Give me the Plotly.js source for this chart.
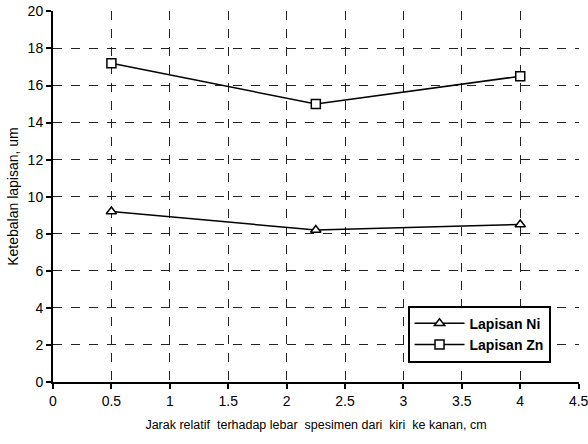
<!DOCTYPE html>
<html><head><meta charset="utf-8">
<script src="https://cdn.plot.ly/plotly-3.0.1.min.js"></script>
<style>body{margin:0;padding:0;background:#fff}#chart{width:588px;height:444px}</style>
</head><body><div id="chart"></div>
<script>
const positions = [0.5, 2.25, 4];
const lapisanNi = [9.2, 8.2, 8.5];
const lapisanZn = [17.2, 15.0, 16.5];
const xTicks = [0, 0.5, 1, 1.5, 2, 2.5, 3, 3.5, 4, 4.5];
const xTickLabels = ['0', '0.5', '1', '1.5', '2', '2.5', '3', '3.5', '4', '4.5'];
const yTicks = [0, 2, 4, 6, 8, 10, 12, 14, 16, 18, 20];

const traces = [
  {x: positions, y: lapisanNi, name: 'Lapisan Ni', mode: 'lines+markers',
   line: {color: '#000', width: 1.5},
   marker: {symbol: 'triangle-up', size: 9, color: '#fff', line: {color: '#000', width: 1.5}}},
  {x: positions, y: lapisanZn, name: 'Lapisan Zn', mode: 'lines+markers',
   line: {color: '#000', width: 1.5},
   marker: {symbol: 'square', size: 9, color: '#fff', line: {color: '#000', width: 1.5}}}
];

const layout = {
  width: 588, height: 444,
  margin: {l: 53, r: 9, t: 11, b: 62},
  paper_bgcolor: '#fff', plot_bgcolor: '#fff',
  font: {family: 'Liberation Sans, Arial, sans-serif', color: '#000', size: 13},
  showlegend: true,
  legend: {x: 0.674, y: 0.129, xanchor: 'left', yanchor: 'middle',
    bordercolor: '#000', borderwidth: 2, bgcolor: '#fff',
    font: {size: 14, weight: 'bold', family: 'Liberation Sans, Arial, sans-serif'},
    tracegroupgap: 0, itemwidth: 50},
  xaxis: {range: [0, 4.503], tickvals: xTicks, ticktext: xTickLabels,
    showline: true, linecolor: '#000', linewidth: 2,
    ticks: 'outside', ticklen: 5, tickcolor: '#000', tickwidth: 1.5,
    showgrid: true, gridcolor: '#222', griddash: 'dash', gridwidth: 1,
    zeroline: false, tickfont: {size: 14}, ticklabeloverflow: 'allow',
    title: {text: 'Jarak relatif  terhadap lebar  spesimen dari  kiri  ke kanan, cm', font: {size: 12.5}, standoff: 12}},
  yaxis: {range: [0, 20.02], tickvals: yTicks,
    showline: true, linecolor: '#000', linewidth: 2,
    ticks: 'outside', ticklen: 5, tickcolor: '#000', tickwidth: 1.5,
    showgrid: true, gridcolor: '#222', griddash: 'dash', gridwidth: 1,
    zeroline: false, tickfont: {size: 14}, ticklabeloverflow: 'allow',
    title: {text: 'Ketebalan lapisan, um', font: {size: 14}, standoff: 6}}
};
Plotly.newPlot('chart', traces, layout, {displayModeBar: false});
</script></body></html>
